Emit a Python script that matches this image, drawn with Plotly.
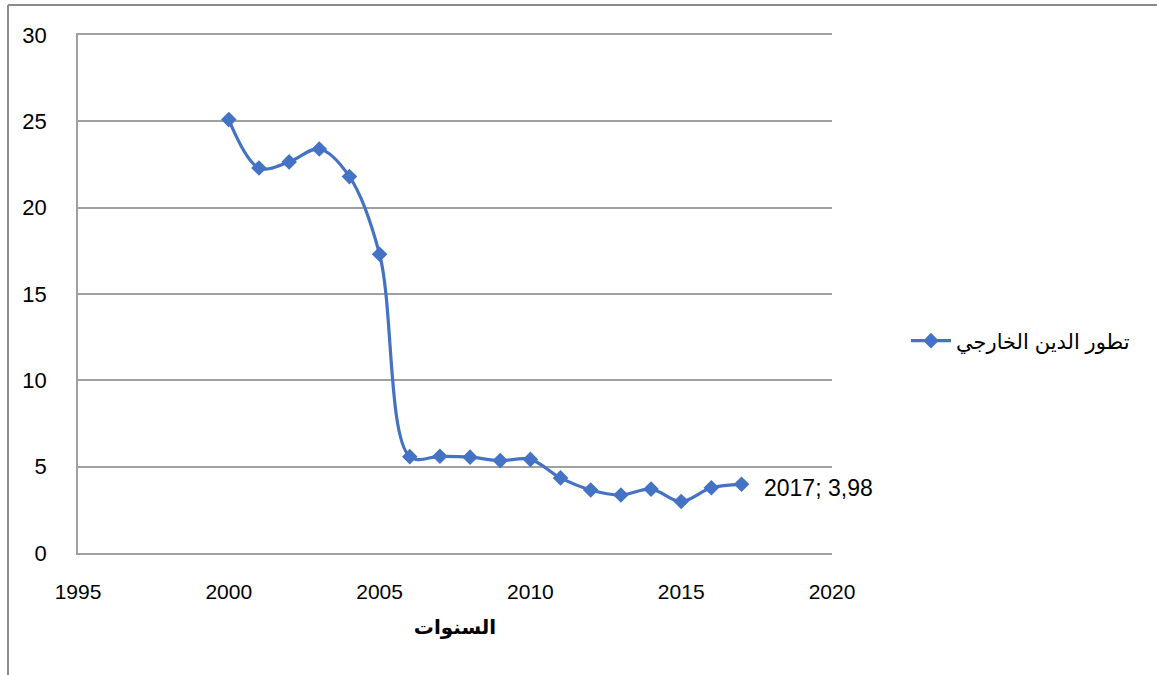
import plotly.graph_objects as go

# External debt evolution by year
years = [2000, 2001, 2002, 2003, 2004, 2005, 2006, 2007, 2008,
         2009, 2010, 2011, 2012, 2013, 2014, 2015, 2016, 2017]
debt = [25.1, 22.3, 22.65, 23.4, 21.8, 17.3, 5.58, 5.6, 5.55,
        5.35, 5.42, 4.35, 3.65, 3.36, 3.7, 2.98, 3.78, 3.98]

series_name = "تطور الدين الخارجي"
x_title = "السنوات"
x_ticks = [1995, 2000, 2005, 2010, 2015, 2020]
y_ticks = [0, 5, 10, 15, 20, 25, 30]

blue = "#4472C4"
grid = "#a0a0a0"
font_main = "Liberation Sans, DejaVu Sans, Arial, sans-serif"

W, H = 1157, 675
L, R, T, B = 78, 325, 35, 122

fig = go.Figure()
fig.add_trace(go.Scatter(
    x=years, y=debt, name=series_name,
    mode="lines+markers",
    line=dict(color=blue, width=3.2, shape="spline", smoothing=1.0),
    marker=dict(symbol="diamond", size=12, color=blue),
))

# value label on the last point
fig.add_annotation(
    x=years[-1], y=debt[-1], xref="x", yref="y",
    text=f"{years[-1]}; {str(debt[-1]).replace('.', ',')}",
    showarrow=False, xanchor="left", yanchor="middle", xshift=20, yshift=-4,
    font=dict(family=font_main, size=23, color="#000000"),
)

# outer frame edges (top and left)
pw = W - L - R
ph = H - T - B
def px_to_paper_x(px):
    return (px - L) / pw
def px_to_paper_y(py):
    return (H - B - py) / ph

fig.add_shape(type="line", xref="paper", yref="paper",
              x0=px_to_paper_x(8), x1=px_to_paper_x(1160),
              y0=px_to_paper_y(5), y1=px_to_paper_y(5),
              line=dict(color="#8c8c8c", width=2))
fig.add_shape(type="line", xref="paper", yref="paper",
              x0=px_to_paper_x(8), x1=px_to_paper_x(8),
              y0=px_to_paper_y(5), y1=px_to_paper_y(680),
              line=dict(color="#8c8c8c", width=2))

fig.update_layout(
    width=W, height=H,
    margin=dict(l=L, r=R, t=T, b=B, pad=0),
    paper_bgcolor="white", plot_bgcolor="white",
    font=dict(family=font_main, size=20, color="#000000"),
    showlegend=True,
    legend=dict(
        x=px_to_paper_x(906), y=px_to_paper_y(341),
        xanchor="left", yanchor="middle",
        font=dict(family=font_main, size=21, color="#000000"),
        bgcolor="rgba(0,0,0,0)",
        itemwidth=40,
    ),
    xaxis=dict(
        range=[1995, 2020], tickvals=x_ticks,
        showgrid=False, zeroline=False,
        showline=True, mirror=True, linecolor=grid, linewidth=1.5,
        ticks="",
        ticklabelstandoff=19,
        tickfont=dict(family=font_main, size=21),
        title=dict(text=f"<b>{x_title}</b>", standoff=18,
                   font=dict(family=font_main, size=20)),
    ),
    yaxis=dict(
        range=[0, 30], tickvals=y_ticks,
        showgrid=True, gridcolor=grid, gridwidth=1.5,
        zeroline=False,
        showline=True, linecolor=grid, linewidth=1.5,
        ticks="", ticklabelstandoff=25,
        tickfont=dict(family=font_main, size=22),
    ),
)

fig.write_html("out.html")
